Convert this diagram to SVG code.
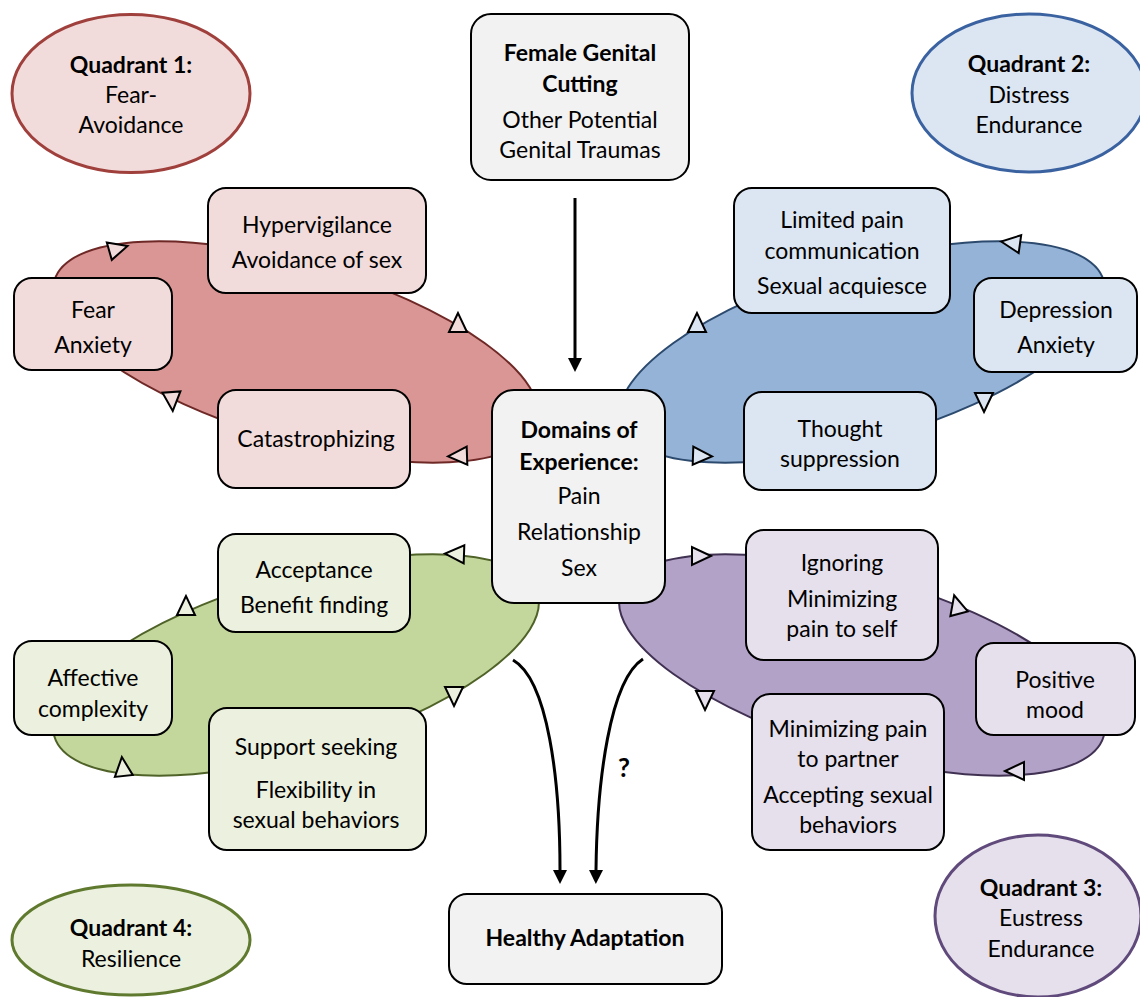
<svg xmlns="http://www.w3.org/2000/svg" xmlns:xlink="http://www.w3.org/1999/xlink" width="1140" height="997" viewBox="0 0 1140 997">
<style>
.t{font-family:Lato,"Liberation Sans",sans-serif;font-size:23px;fill:#000;text-anchor:middle;dominant-baseline:central}
.b{font-weight:bold}
.box{stroke:#000;stroke-width:2}
.g{fill:#f2f2f2}
.r{fill:#f2dcdb}
.bl{fill:#dce6f2}
.gr{fill:#ebf1de}
.pu{fill:#e6e0ec}
.tri{stroke:#000;stroke-width:2;stroke-linejoin:miter}
.con{fill:none;stroke:#000;stroke-width:3}
</style>
<defs>
<polygon id="tri" points="11,0 -8,-9 -8,9"/>
<marker id="ah" viewBox="0 0 14 14" refX="0" refY="7" markerWidth="14" markerHeight="14" markerUnits="userSpaceOnUse" orient="auto">
<path d="M0,0 L14,7 L0,14 z" fill="#000"/>
</marker>
</defs>

<!-- quadrant label ellipses -->
<g id="q1"><ellipse cx="131" cy="93.5" rx="119" ry="79" fill="#f2dcdb" stroke="#a0403d" stroke-width="3"/>
<text class="t b" x="131" y="64">Quadrant 1:</text><text class="t" x="131" y="94">Fear-</text><text class="t" x="131" y="124">Avoidance</text></g>
<g id="q2"><ellipse cx="1029" cy="93" rx="117" ry="79" fill="#dce6f2" stroke="#3a62a0" stroke-width="3"/>
<text class="t b" x="1029" y="63">Quadrant 2:</text><text class="t" x="1029" y="94">Distress</text><text class="t" x="1029" y="124">Endurance</text></g>
<g id="q4"><ellipse cx="131" cy="940" rx="119" ry="55" fill="#ebf1de" stroke="#5f7a2e" stroke-width="3"/>
<text class="t b" x="131" y="927">Quadrant 4:</text><text class="t" x="131" y="958">Resilience</text></g>
<g id="q3"><ellipse cx="1038" cy="916" rx="103" ry="81" fill="#e6e0ec" stroke="#604a7b" stroke-width="3"/>
<text class="t b" x="1041" y="887">Quadrant 3:</text><text class="t" x="1041" y="917">Eustress</text><text class="t" x="1041" y="948">Endurance</text></g>

<!-- cycles -->
<g id="cycle-q1" class="tri">
<ellipse transform="translate(296,352) rotate(16.5)" rx="252" ry="88" fill="#d99694" stroke="#6e2826" stroke-width="2"/>
<g fill="#f2dcdb">
<use xlink:href="#tri" transform="translate(117,249) rotate(-16)"/>
<use xlink:href="#tri" transform="translate(458,324) rotate(-90)"/>
<use xlink:href="#tri" transform="translate(172,400) rotate(86)"/>
<use xlink:href="#tri" transform="translate(459,456) rotate(178)"/>
</g></g>
<g id="cycle-q2" class="tri">
<ellipse transform="translate(862,352) scale(-1,1) rotate(16.5)" rx="252" ry="88" fill="#95b3d7" stroke="#2c4a6e" stroke-width="2"/>
<g fill="#dce6f2">
<use xlink:href="#tri" transform="translate(1012,243) rotate(188)"/>
<use xlink:href="#tri" transform="translate(697,324) rotate(-90)"/>
<use xlink:href="#tri" transform="translate(984,401) rotate(90)"/>
<use xlink:href="#tri" transform="translate(701,456) rotate(2)"/>
</g></g>
<g id="cycle-q4" class="tri">
<ellipse transform="translate(296,665) scale(1,-1) rotate(16.5)" rx="252" ry="88" fill="#c3d69b" stroke="#4f6228" stroke-width="2"/>
<g fill="#ebf1de">
<use xlink:href="#tri" transform="translate(456,554) rotate(182)"/>
<use xlink:href="#tri" transform="translate(186,607) rotate(-90)"/>
<use xlink:href="#tri" transform="translate(454,695) rotate(90)"/>
<use xlink:href="#tri" transform="translate(123,768) rotate(-96)"/>
</g></g>
<g id="cycle-q3" class="tri">
<ellipse transform="translate(862,665) scale(-1,-1) rotate(16.5)" rx="252" ry="88" fill="#b3a2c7" stroke="#403152" stroke-width="2"/>
<g fill="#e6e0ec">
<use xlink:href="#tri" transform="translate(700,556) rotate(0)"/>
<use xlink:href="#tri" transform="translate(957,606) rotate(-105)"/>
<use xlink:href="#tri" transform="translate(705,699) rotate(90)"/>
<use xlink:href="#tri" transform="translate(1016,771) rotate(180)"/>
</g></g>

<!-- connectors -->
<g id="connectors">
<path class="con" d="M575,198 L575,358" stroke-width="2.5" marker-end="url(#ah)"/>
<path class="con" d="M513,660 C548,680 560,780 560,870" marker-end="url(#ah)"/>
<path class="con" d="M643,659 C610,680 597,780 596,870" marker-end="url(#ah)"/>
<text class="t b" x="624" y="767" style="font-size:26px">?</text>
</g>

<!-- nodes -->
<g id="fgc"><rect class="box g" x="471" y="14" width="218" height="166" rx="20"/>
<text class="t b" x="580" y="52">Female Genital</text><text class="t b" x="580" y="83">Cutting</text>
<text class="t" x="580" y="119">Other Potential</text><text class="t" x="580" y="149">Genital Traumas</text></g>

<g id="domains"><rect class="box g" x="492" y="390" width="173" height="213" rx="22"/>
<text class="t b" x="579" y="429">Domains of</text><text class="t b" x="579" y="461">Experience:</text>
<text class="t" x="579" y="495">Pain</text><text class="t" x="579" y="531">Relationship</text><text class="t" x="579" y="567">Sex</text></g>

<g id="healthy"><rect class="box g" x="449" y="894" width="273" height="90" rx="18"/>
<text class="t b" x="585" y="937">Healthy Adaptation</text></g>

<g id="hypervigilance"><rect class="box r" x="208" y="188" width="218" height="105" rx="18"/>
<text class="t" x="317" y="224">Hypervigilance</text><text class="t" x="317" y="259">Avoidance of sex</text></g>
<g id="fear"><rect class="box r" x="14" y="278" width="158" height="92" rx="18"/>
<text class="t" x="93" y="309">Fear</text><text class="t" x="93" y="344">Anxiety</text></g>
<g id="catastrophizing"><rect class="box r" x="218" y="390" width="192" height="98" rx="18"/>
<text class="t" x="316" y="438">Catastrophizing</text></g>

<g id="limited"><rect class="box bl" x="734" y="188" width="216" height="125" rx="18"/>
<text class="t" x="842" y="219">Limited pain</text><text class="t" x="842" y="250">communication</text><text class="t" x="842" y="285">Sexual acquiesce</text></g>
<g id="depression"><rect class="box bl" x="974" y="278" width="163" height="94" rx="18"/>
<text class="t" x="1056" y="309">Depression</text><text class="t" x="1056" y="344">Anxiety</text></g>
<g id="thought"><rect class="box bl" x="744" y="392" width="192" height="98" rx="18"/>
<text class="t" x="840" y="428">Thought</text><text class="t" x="840" y="458">suppression</text></g>

<g id="acceptance"><rect class="box gr" x="218" y="534" width="192" height="98" rx="18"/>
<text class="t" x="314" y="569">Acceptance</text><text class="t" x="314" y="604">Benefit finding</text></g>
<g id="affective"><rect class="box gr" x="14" y="641" width="158" height="94" rx="18"/>
<text class="t" x="93" y="677">Affective</text><text class="t" x="93" y="708">complexity</text></g>
<g id="support"><rect class="box gr" x="209" y="708" width="217" height="142" rx="18"/>
<text class="t" x="316" y="746">Support seeking</text><text class="t" x="316" y="789">Flexibility in</text><text class="t" x="316" y="819">sexual behaviors</text></g>

<g id="ignoring"><rect class="box pu" x="746" y="530" width="192" height="130" rx="18"/>
<text class="t" x="842" y="562">Ignoring</text><text class="t" x="842" y="598">Minimizing</text><text class="t" x="842" y="628">pain to self</text></g>
<g id="positive"><rect class="box pu" x="976" y="643" width="159" height="92" rx="18"/>
<text class="t" x="1055" y="679">Positive</text><text class="t" x="1055" y="709">mood</text></g>
<g id="minimizing"><rect class="box pu" x="752" y="694" width="192" height="156" rx="18"/>
<text class="t" x="848" y="728">Minimizing pain</text><text class="t" x="848" y="758">to partner</text><text class="t" x="848" y="794">Accepting sexual</text><text class="t" x="848" y="824">behaviors</text></g>
</svg>
